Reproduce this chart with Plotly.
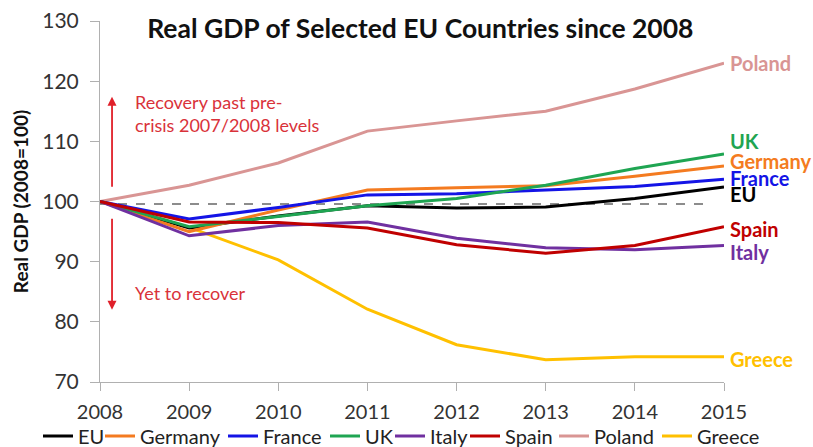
import plotly.graph_objects as go

years = [2008, 2009, 2010, 2011, 2012, 2013, 2014, 2015]
eu      = [100, 95.6, 97.6, 99.3, 98.9, 99.1, 100.5, 102.4]
germany = [100, 95.0, 98.6, 101.9, 102.3, 102.6, 104.2, 105.9]
france  = [100, 97.1, 99.0, 101.1, 101.3, 101.9, 102.5, 103.7]
uk      = [100, 95.8, 97.5, 99.3, 100.5, 102.7, 105.5, 107.9]
italy   = [100, 94.3, 96.0, 96.6, 93.9, 92.3, 92.0, 92.7]
spain   = [100, 96.6, 96.5, 95.6, 92.8, 91.4, 92.7, 95.8]
poland  = [100, 102.7, 106.4, 111.7, 113.4, 115.0, 118.7, 123.0]
greece  = [100, 95.7, 90.3, 82.1, 76.2, 73.7, 74.2, 74.2]

names = ["EU", "Germany", "France", "UK", "Italy", "Spain", "Poland", "Greece"]
series = [eu, germany, france, uk, italy, spain, poland, greece]
colors = ["#000000", "#F47B20", "#1414E6", "#1FA552", "#7030A0", "#C00000", "#D99594", "#FFC000"]
label_y = [101.2, 106.7, 103.9, 110.1, 91.6, 95.4, 123.0, 73.8]
# pixel x where each legend entry's text starts (layout only)
legend_text_x = [78, 140, 263, 365, 430, 505, 594, 697]

baseline_level = 99.6

FONT = "Lato, Open Sans, sans-serif"
W, H = 813, 447

fig = go.Figure()

# Dashed baseline
fig.add_trace(go.Scatter(x=[years[0], years[-1] - 0.15], y=[baseline_level, baseline_level],
                         mode="lines", line=dict(color="#8C8C8C", width=2, dash="dash"),
                         showlegend=False, hoverinfo="skip"))

def legend_key(i):
    return "legend" if i == 0 else "legend%d" % (i + 1)

order = [6, 7, 0, 1, 2, 3, 4, 5]
for i in order:
    fig.add_trace(go.Scatter(x=years, y=series[i], mode="lines", name=names[i],
                             line=dict(color=colors[i], width=3), legend=legend_key(i)))

# Right-side labels
for i in range(len(names)):
    fig.add_annotation(x=years[-1], y=label_y[i], text="<b>%s</b>" % names[i],
                       showarrow=False, xanchor="left", yanchor="middle", xshift=4,
                       font=dict(family=FONT, size=20, color=colors[i]))

# Arrows
arrow_x = 2008.135
fig.add_annotation(x=arrow_x, y=117.4, ax=arrow_x, ay=102.2, xref="x", yref="y",
                   axref="x", ayref="y", text="", showarrow=True, arrowhead=2,
                   arrowsize=1, arrowwidth=1.8, arrowcolor="#E0202A")
fig.add_annotation(x=arrow_x, y=82.0, ax=arrow_x, ay=97.4, xref="x", yref="y",
                   axref="x", ayref="y", text="", showarrow=True, arrowhead=2,
                   arrowsize=1, arrowwidth=1.8, arrowcolor="#E0202A")
fig.add_annotation(x=2008.37, y=114.6, text="Recovery past pre-<br>crisis 2007/2008 levels",
                   showarrow=False, xanchor="left", yanchor="middle", align="left",
                   font=dict(family=FONT, size=18, color="#D9323A"))
fig.add_annotation(x=2008.37, y=84.8, text="Yet to recover",
                   showarrow=False, xanchor="left", yanchor="middle", align="left",
                   font=dict(family=FONT, size=18, color="#D9323A"))

legends = {}
for i in range(len(names)):
    legends[legend_key(i)] = dict(
        orientation="h", xref="container", yref="container",
        x=(legend_text_x[i] - 40) / W, xanchor="left",
        y=1 - 436 / H, yanchor="middle",
        font=dict(family=FONT, size=20, color="#222222"),
        itemwidth=30, bgcolor="rgba(0,0,0,0)", borderwidth=0)

fig.update_layout(
    width=W, height=H,
    margin=dict(l=100, r=89, t=21, b=65, autoexpand=False),
    paper_bgcolor="white", plot_bgcolor="white",
    font=dict(family=FONT, color="#333333"),
    title=dict(text="<b>Real GDP of Selected EU Countries since 2008</b>",
               x=0.517, xanchor="center", y=0.935, yanchor="middle",
               font=dict(family=FONT, size=26.5, color="#111111")),
    showlegend=True,
    xaxis=dict(range=[2008, 2015], tickvals=years, ticktext=[str(y) for y in years],
               showgrid=False, zeroline=False, showline=True, linecolor="#B0B0B0",
               linewidth=1, ticks="outside", tickcolor="#B0B0B0", ticklen=8,
               ticklabelstandoff=4,
               tickfont=dict(family=FONT, size=20, color="#333333")),
    yaxis=dict(range=[70, 130], tickvals=[70, 80, 90, 100, 110, 120, 130],
               showgrid=False, zeroline=False, showline=True, linecolor="#B0B0B0",
               linewidth=1, ticks="outside", tickcolor="#B0B0B0", ticklen=9,
               ticklabelstandoff=7,
               tickfont=dict(family=FONT, size=21, color="#333333"),
               title=dict(text="<b>Real GDP (2008=100)</b>", standoff=8,
                          font=dict(family=FONT, size=19, color="#111111"))),
    **legends,
)

fig.write_html("out.html")
